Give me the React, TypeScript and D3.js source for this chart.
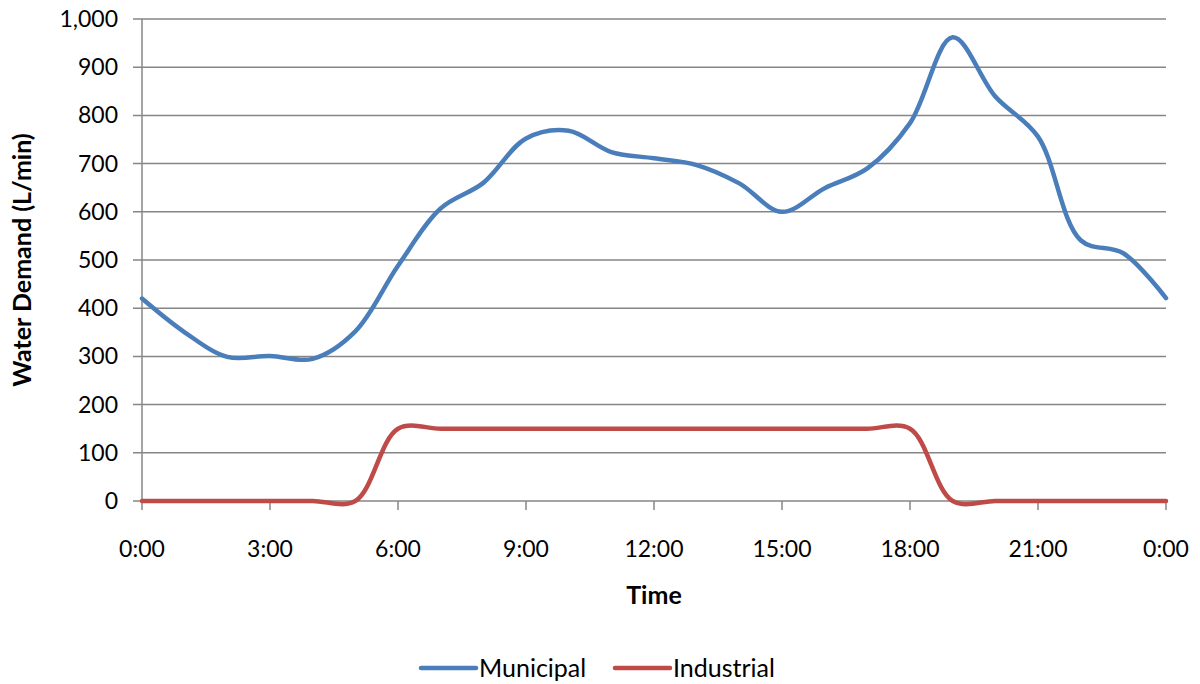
import React from "react";
import * as d3 from "d3";

// Hourly water demand (L/min), 0:00 through the following 0:00
const hours: number[] = d3.range(0, 25);
const municipal: number[] = [
  420, 350, 299, 301, 295, 352, 488, 607, 660, 752, 768, 724, 711,
  697, 659, 600, 649, 690, 784, 962, 839, 756, 541, 514, 421,
];
const industrial: number[] = [
  0, 0, 0, 0, 0, 0, 150, 150, 150, 150, 150, 150, 150,
  150, 150, 150, 150, 150, 150, 0, 0, 0, 0, 0, 0,
];
const xTickHours: number[] = [0, 3, 6, 9, 12, 15, 18, 21, 24];
const yTicks: number[] = [0, 100, 200, 300, 400, 500, 600, 700, 800, 900, 1000];
const seriesNames: string[] = ["Municipal", "Industrial"];
const seriesColors: string[] = ["#4A7EBB", "#BE4B48"];

const W = 1200;
const H = 684;
const left = 142;
const right = 1166;
const top = 19;
const bottom = 501;
const font = "Lato, 'Open Sans', sans-serif";
const gridColor = "#868686";

export default function App() {
  const x = d3.scaleLinear().domain([0, 24]).range([left, right]);
  const y = d3.scaleLinear().domain([0, 1000]).range([bottom, top]);
  const line = d3
    .line<number>()
    .x((_, i) => x(hours[i]))
    .y((d) => y(d))
    .curve(d3.curveCatmullRom.alpha(0.5));

  const fmt = d3.format(",");
  const series = [municipal, industrial];

  return (
    <svg
      width={W}
      height={H}
      style={{ position: "absolute", left: 0, top: 0, background: "#fff" }}
      fontFamily={font}
    >
      {/* horizontal gridlines with left tick stubs */}
      {yTicks.map((t) => (
        <g key={t}>
          <line
            x1={left - 9}
            x2={right}
            y1={y(t)}
            y2={y(t)}
            stroke={gridColor}
            strokeWidth={1.5}
          />
          <text
            x={left - 24}
            y={y(t)}
            dy="0.35em"
            textAnchor="end"
            fontSize={23}
            fill="#000"
          >
            {fmt(t)}
          </text>
        </g>
      ))}
      {/* y axis */}
      <line x1={left} x2={left} y1={top} y2={bottom} stroke={gridColor} strokeWidth={1.5} />
      {/* x ticks and labels */}
      {xTickHours.map((h) => (
        <g key={h}>
          <line
            x1={x(h)}
            x2={x(h)}
            y1={bottom}
            y2={bottom + 9}
            stroke={gridColor}
            strokeWidth={1.5}
          />
          <text
            x={x(h)}
            y={bottom + 56}
            textAnchor="middle"
            fontSize={23}
            fill="#000"
          >
            {`${h % 24}:00`}
          </text>
        </g>
      ))}
      {/* series */}
      {series.map((s, i) => (
        <path
          key={seriesNames[i]}
          d={line(s) || ""}
          fill="none"
          stroke={seriesColors[i]}
          strokeWidth={4.5}
          strokeLinejoin="round"
          strokeLinecap="round"
        />
      ))}
      {/* axis titles */}
      <text
        x={(left + right) / 2}
        y={604}
        textAnchor="middle"
        fontSize={25}
        fontWeight="bold"
        fill="#000"
      >
        Time
      </text>
      <text
        transform={`translate(31, ${(top + bottom) / 2}) rotate(-90)`}
        textAnchor="middle"
        fontSize={25}
        fontWeight="bold"
        fill="#000"
      >
        Water Demand (L/min)
      </text>
      {/* legend */}
      {seriesNames.map((name, i) => {
        const lx = i === 0 ? 421 : 615;
        return (
          <g key={name}>
            <line
              x1={lx}
              x2={lx + 55}
              y1={668}
              y2={668}
              stroke={seriesColors[i]}
              strokeWidth={4.5}
              strokeLinecap="round"
            />
            <text x={lx + 58} y={668} dy="0.35em" fontSize={25} fill="#000">
              {name}
            </text>
          </g>
        );
      })}
    </svg>
  );
}
